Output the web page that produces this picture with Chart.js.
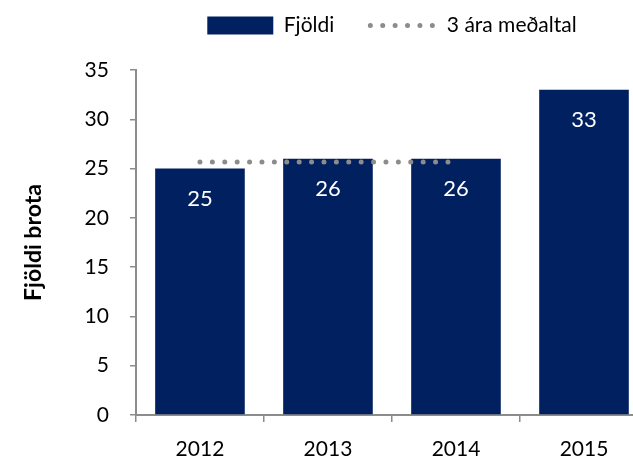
<!DOCTYPE html>
<html>
<head>
<meta charset="utf-8">
<script src="https://cdn.jsdelivr.net/npm/chart.js@4"></script>
<style>
    html, body { margin: 0; padding: 0; background: #fff; overflow: hidden; }
    #wrap { width: 650px; height: 461px; }
</style>
</head>
<body>
<div id="wrap"><canvas id="chart"></canvas></div>
<script>
const years = ['2012', '2013', '2014', '2015'];
const counts = [25, 26, 26, 33];
const avg3 = [25.67, 25.67, 25.67, null];
const yTicks = { min: 0, max: 35, step: 5 };

const FONT = 'Lato, "Open Sans", sans-serif';
const DOTS = [0, 12.4];

// white value labels inside the bars
const barLabels = {
    id: 'barLabels',
    afterDatasetsDraw(chart) {
        const ctx = chart.ctx;
        const meta = chart.getDatasetMeta(0);
        ctx.save();
        ctx.fillStyle = '#ffffff';
        ctx.font = '22px ' + FONT;
        ctx.textAlign = 'center';
        ctx.textBaseline = 'middle';
        meta.data.forEach((bar, i) => {
            ctx.fillText(counts[i], bar.x, bar.y + 30);
        });
        ctx.restore();
    }
};

new Chart(document.getElementById('chart').getContext('2d'), {
    data: {
        labels: years,
        datasets: [
            {
                type: 'bar',
                label: 'Fjöldi',
                data: counts,
                xAxisID: 'x',
                yAxisID: 'y',
                backgroundColor: '#002060',
                borderWidth: 0,
                pointStyle: 'rect',
                barPercentage: 0.70,
                categoryPercentage: 1.0,
                order: 1
            },
            {
                type: 'line',
                label: '3 ára meðaltal',
                data: avg3,
                xAxisID: 'x',
                yAxisID: 'y',
                borderColor: '#8c8c8c',
                backgroundColor: '#8c8c8c',
                borderWidth: 5,
                borderDash: DOTS,
                borderCapStyle: 'round',
                pointRadius: 0,
                pointStyle: 'line',
                fill: false,
                order: 0
            }
        ]
    },
    options: {
        responsive: true,
        maintainAspectRatio: false,
        animation: false,
        layout: { padding: { top: -21, right: 2, left: 20, bottom: 0 } },
        plugins: {
            legend: {
                position: 'top',
                fullSize: false,
                labels: {
                    usePointStyle: true,
                    pointStyleWidth: 66,
                    boxHeight: 18,
                    padding: 36,
                    color: '#000',
                    font: { family: FONT, size: 21 },
                    sort: (a, b) => a.datasetIndex - b.datasetIndex,
                    generateLabels(chart) {
                        const items = Chart.defaults.plugins.legend.labels.generateLabels(chart);
                        items.forEach(item => {
                            if (item.datasetIndex === 1) {
                                item.lineDash = DOTS;
                                item.lineCap = 'round';
                                item.lineWidth = 5;
                            }
                        });
                        return items;
                    }
                }
            },
            tooltip: { enabled: false }
        },
        scales: {
            x: {
                grid: {
                    offset: true,
                    drawOnChartArea: false,
                    tickLength: 7,
                    color: '#8c8c8c',
                    lineWidth: 1.5
                },
                border: { color: '#8c8c8c', width: 2 },
                ticks: {
                    color: '#000',
                    font: { family: FONT, size: 21 },
                    padding: 15
                },
                afterFit(scale) { scale.height = 46; }
            },
            y: {
                min: yTicks.min,
                max: yTicks.max,
                ticks: {
                    stepSize: yTicks.step,
                    color: '#000',
                    font: { family: FONT, size: 21 },
                    padding: 21
                },
                grid: {
                    drawOnChartArea: false,
                    tickLength: 6,
                    color: '#8c8c8c',
                    lineWidth: 1.5
                },
                border: { color: '#8c8c8c', width: 2 },
                title: {
                    display: true,
                    text: 'Fjöldi brota',
                    color: '#000',
                    font: { family: FONT, size: 23, weight: 'bold' },
                    padding: { top: 0, bottom: 16 }
                }
            },
            // empty spacer between legend and plot
            gap: {
                type: 'category',
                position: 'top',
                grid: { display: false },
                border: { display: false },
                ticks: { display: false },
                afterFit(scale) { scale.height = 24; }
            }
        }
    },
    plugins: [barLabels]
});
</script>
</body>
</html>
